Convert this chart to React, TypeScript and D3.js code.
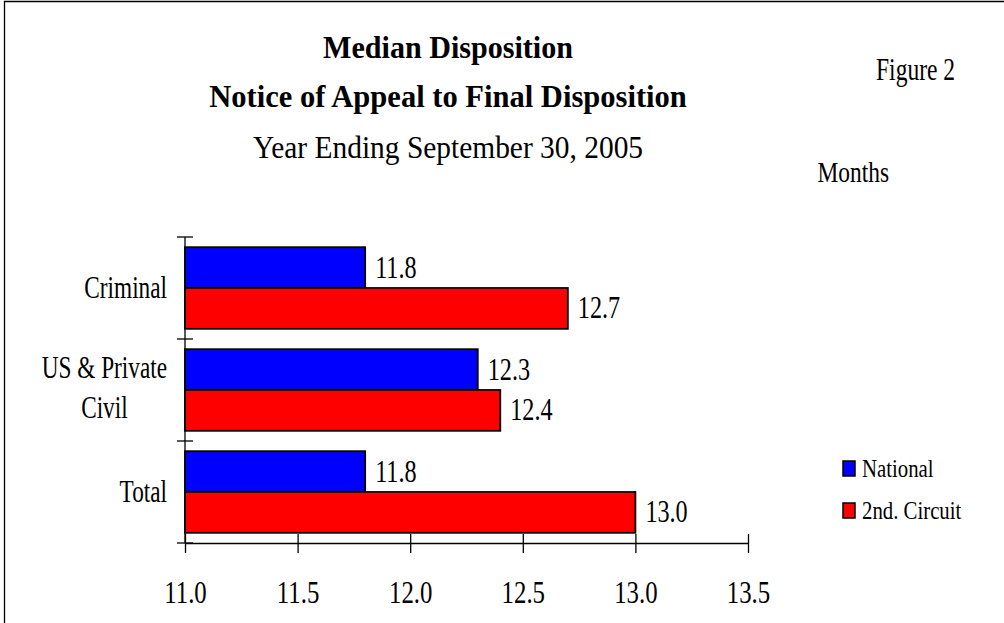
import { useEffect, useRef } from "react";
import * as d3 from "d3";

const CATEGORIES = ["Criminal", "US & Private Civil", "Total"];
const CATEGORY_LINES = [["Criminal"], ["US & Private", "Civil"], ["Total"]];
const SERIES = ["National", "2nd. Circuit"];
const NATIONAL = [11.8, 12.3, 11.8];
const SECOND_CIRCUIT = [12.7, 12.4, 13.0];
const X_TICKS = [11.0, 11.5, 12.0, 12.5, 13.0, 13.5];
const TITLE_LINES = ["Median Disposition", "Notice of Appeal to Final Disposition"];
const SUBTITLE = "Year Ending September 30, 2005";

const COLORS = ["#0000FF", "#FF0000"];
const FONT = "'Liberation Serif', 'Times New Roman', serif";

const W = 1004;
const H = 623;

function buildChart(svgEl: SVGSVGElement) {
  const svg = d3.select(svgEl);
  svg.selectAll("*").remove();

  // text helper: Times rendered a bit condensed like the original
  const addText = (
    parent: any, str: string, x: number, y: number,
    size: number, sx: number, anchor = "start", weight = "normal"
  ) =>
    parent.append("text")
      .attr("transform", `translate(${x},${y}) scale(${sx},1)`)
      .attr("text-anchor", anchor)
      .attr("font-family", FONT)
      .attr("font-size", size)
      .attr("font-weight", weight)
      .attr("fill", "#000")
      .text(str);

  // frame (only top and left edges fall inside the picture)
  svg.append("path")
    .attr("d", `M4.5,${H + 5}V1.5H${W + 5}`)
    .attr("fill", "none")
    .attr("stroke", "#000")
    .attr("stroke-width", 1.3);

  // titles
  addText(svg, TITLE_LINES[0], 448, 58, 32, 0.94, "middle", "bold");
  addText(svg, TITLE_LINES[1], 448, 107, 32, 0.955, "middle", "bold");
  addText(svg, SUBTITLE, 448, 158, 32, 0.92, "middle");
  addText(svg, "Figure 2", 876, 80, 31, 0.76);
  addText(svg, "Months", 889, 182, 30, 0.78, "end");

  const x = d3.scaleLinear().domain([11.0, 13.5]).range([185, 748]);
  const y = d3.scaleBand<string>().domain(CATEGORIES).range([237, 543]).padding(0);
  const inner = d3.scaleBand<string>().domain(SERIES)
    .range([0, y.bandwidth()]).paddingInner(0).paddingOuter(0.25);

  const values = [NATIONAL, SECOND_CIRCUIT];

  // bars
  const barG = svg.append("g");
  CATEGORIES.forEach((cat, ci) => {
    SERIES.forEach((s, si) => {
      const v = values[si][ci];
      const y0 = (y(cat) as number) + (inner(s) as number);
      barG.append("rect")
        .attr("x", x(11.0))
        .attr("y", y0)
        .attr("width", x(v) - x(11.0))
        .attr("height", inner.bandwidth())
        .attr("fill", COLORS[si])
        .attr("stroke", "#000")
        .attr("stroke-width", 1.8);
      addText(barG, v.toFixed(1), x(v) + 10, y0 + inner.bandwidth() / 2 + 10, 31, 0.78);
    });
  });

  // y axis: line + crossing ticks at band edges
  const axisG = svg.append("g").attr("stroke", "#000").attr("stroke-width", 1.3);
  axisG.append("line")
    .attr("x1", x(11.0)).attr("x2", x(11.0))
    .attr("y1", y.range()[0]).attr("y2", y.range()[1]);
  const edges = CATEGORIES.map(c => y(c) as number).concat([y.range()[1]]);
  edges.forEach(e => {
    axisG.append("line")
      .attr("x1", x(11.0) - 8).attr("x2", x(11.0) + 8)
      .attr("y1", e).attr("y2", e);
  });

  // x axis
  svg.append("g")
    .attr("transform", `translate(0,${y.range()[1]})`)
    .call(d3.axisBottom(x).tickValues(X_TICKS).tickFormat(d3.format(".1f")).tickSizeOuter(0))
    .call(ax => {
      ax.select(".domain").attr("stroke", "#000").attr("stroke-width", 1.3);
      ax.selectAll(".tick line")
        .attr("stroke", "#000").attr("stroke-width", 1.3)
        .attr("y1", -9).attr("y2", 10);
      ax.selectAll(".tick text")
        .attr("fill", "#000")
        .attr("font-family", FONT)
        .attr("font-size", 31)
        .attr("y", 60).attr("dy", 0)
        .attr("transform", "scale(0.8,1)");
    });

  // category labels: lines centred on each other, block right-aligned
  const labelRight = 167;
  CATEGORIES.forEach((cat, ci) => {
    const lines = CATEGORY_LINES[ci];
    const mid = (y(cat) as number) + y.bandwidth() / 2;
    const lineH = 40;
    const top = mid + 10 - ((lines.length - 1) * lineH) / 2 - (lines.length > 1 ? 2 : 0);
    const nodes = lines.map((ln, li) => addText(svg, ln, 0, top + li * lineH, 31, 0.75, "middle"));
    const widths = nodes.map(n => (n.node() as SVGTextElement).getComputedTextLength() * 0.75);
    const maxW = d3.max(widths) || 0;
    const cx = labelRight - maxW / 2;
    nodes.forEach((n, li) => n.attr("transform", `translate(${cx},${top + li * lineH}) scale(0.75,1)`));
  });

  // legend
  const legendY = [461, 503];
  SERIES.forEach((s, si) => {
    svg.append("rect")
      .attr("x", 843).attr("y", legendY[si])
      .attr("width", 12).attr("height", 15)
      .attr("fill", COLORS[si])
      .attr("stroke", "#000")
      .attr("stroke-width", 1.5);
    addText(svg, s, 862, legendY[si] + 15.5, 26, 0.8);
  });
}

export default function App() {
  const svgRef = useRef<SVGSVGElement | null>(null);

  useEffect(() => {
    if (svgRef.current) buildChart(svgRef.current);
  }, []);

  return (
    <svg
      ref={svgRef}
      width={W}
      height={H}
      style={{ position: "absolute", left: 0, top: 0, display: "block", background: "#fff", overflow: "hidden" }}
    />
  );
}
